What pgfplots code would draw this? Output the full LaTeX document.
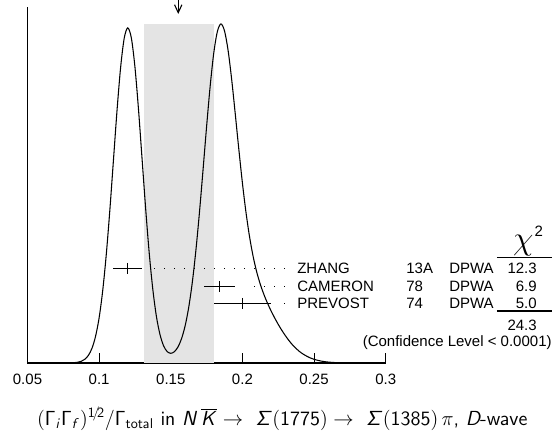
\documentclass[border=0pt]{standalone}
\usepackage[no-math]{fontspec}
\usepackage{graphicx}
\usepackage{pgfplots}
\pgfplotsset{compat=1.18}
\usetikzlibrary{arrows.meta}
\newfontfamily\arial{Liberation Sans}
\DeclareMathAlphabet{\mathsfsl}{OT1}{cmss}{m}{sl}
\definecolor{bandgray}{RGB}{228,228,228}
\newcommand{\tf}{\arial\fontsize{11.25pt}{13pt}\selectfont}
\begin{document}
\begin{tikzpicture}
\useasboundingbox (-20.625pt,-51.75pt) rectangle (398.625pt,272.25pt);
\begin{axis}[
  at={(0pt,0pt)}, anchor=south west,
  scale only axis, width=268.65pt, height=267pt,
  xmin=0.05, xmax=0.3, ymin=0, ymax=356,
  enlargelimits=false, clip=false,
  axis x line*=bottom, axis y line*=left,
  axis line style={-, line width=0.9pt},
  xtick={0.05,0.1,0.15,0.2,0.25,0.3},
  xticklabels={0.05,0.1,0.15,0.2,0.25,0.3},
  ytick=\empty,
  tick align=inside, major tick length=7.5pt,
  xtick style={line width=0.8pt, black},
  xticklabel style={font=\tf, yshift=-5pt},
]
% weighted-average band
\addplot[fill=bandgray, draw=none] coordinates {(0.131,339) (0.180,339)} \closedcycle;
% ideogram curve
\addplot[black, line width=0.8pt, smooth, no marks] coordinates {
(0.05,0) (0.06,0) (0.07,0) (0.075,0.01) (0.08,0.11) (0.0825,0.29) (0.085,0.74) (0.0875,1.71)
(0.09,3.72) (0.0925,7.64) (0.095,14.7) (0.0975,26.7) (0.1,45.3) (0.1025,72.5) (0.105,108.8)
(0.1075,153.4) (0.11,203.2) (0.1125,252.9) (0.115,295.7) (0.1175,324.8) (0.12,335.1)
(0.1225,324.9) (0.125,295.8) (0.1275,253.0) (0.13,203.4) (0.1325,153.7) (0.135,109.2)
(0.1375,73.2) (0.14,46.3) (0.1425,28.3) (0.145,17.1) (0.1475,11.4) (0.15,9.7) (0.1525,11.3)
(0.155,16.0) (0.1575,24.3) (0.16,37.1) (0.1625,55.5) (0.165,80.4) (0.1675,112.3) (0.17,150.4)
(0.1725,192.9) (0.175,236.5) (0.1775,277.0) (0.18,310.0) (0.1825,331.4) (0.185,339.1)
(0.1875,332.1) (0.19,312.6) (0.1925,283.5) (0.195,249.1) (0.1975,213.6) (0.2,179.9)
(0.2025,150.5) (0.205,126.0) (0.2075,106.4) (0.21,90.9) (0.2125,78.6) (0.215,68.5)
(0.2175,59.8) (0.22,52.1) (0.2225,45.1) (0.225,38.6) (0.2275,32.7) (0.23,27.3) (0.2325,22.4)
(0.235,18.1) (0.2375,14.5) (0.24,11.3) (0.2425,8.8) (0.245,6.7) (0.2475,5.0) (0.25,3.7)
(0.2525,2.7) (0.255,1.9) (0.2575,1.3) (0.26,0.9) (0.2625,0.6) (0.265,0.4) (0.27,0.2)
(0.275,0.07) (0.28,0.03) (0.29,0) (0.3,0)
};
% arrow at weighted average
\addplot[black, line width=0.8pt, -{Straight Barb[length=6pt,width=5.5pt]}] coordinates {(0.1552,363) (0.1552,349)};
% dotted leaders
\addplot[black, line width=0.75pt, dash pattern=on 0.75pt off 6.75pt, no marks] coordinates {(0.2297,94.7) (0.1355,94.7)};
\addplot[black, line width=0.75pt, dash pattern=on 0.75pt off 6.75pt, no marks] coordinates {(0.2297,76.7) (0.2053,76.7)};
\addplot[black, line width=0.75pt, dash pattern=on 0.75pt off 6.75pt, no marks] coordinates {(0.2297,59.7) (0.2262,59.7)};
% measurements
\addplot[black, only marks, mark=|, mark size=4.1pt, mark options={line width=0.8pt},
  error bars/.cd, x dir=both, x explicit, error mark=none,
  error bar style={line width=0.8pt}]
  coordinates {(0.12,94.7) +- (0.01,0) (0.184,76.7) +- (0.011,0) (0.20,59.7) +- (0.02,0)};
% chi^2 table lines
\addplot[black, line width=0.8pt, no marks] coordinates {(0.3775,105.3) (0.4163,105.3)};
\addplot[black, line width=0.8pt, no marks] coordinates {(0.3775,52) (0.4163,52)};
% texts
\node[anchor=base west, inner sep=0, font=\tf] at (axis cs:0.2381,89.3) {ZHANG};
\node[anchor=base west, inner sep=0, font=\tf] at (axis cs:0.2381,71.6) {CAMERON};
\node[anchor=base west, inner sep=0, font=\tf] at (axis cs:0.2381,54.3) {PREVOST};
\node[anchor=base west, inner sep=0, font=\tf] at (axis cs:0.3142,89.3) {13A};
\node[anchor=base west, inner sep=0, font=\tf] at (axis cs:0.3142,71.6) {78};
\node[anchor=base west, inner sep=0, font=\tf] at (axis cs:0.3142,54.3) {74};
\node[anchor=base west, inner sep=0, font=\tf] at (axis cs:0.3442,89.3) {DPWA};
\node[anchor=base west, inner sep=0, font=\tf] at (axis cs:0.3442,71.6) {DPWA};
\node[anchor=base west, inner sep=0, font=\tf] at (axis cs:0.3442,54.3) {DPWA};
\node[anchor=base east, inner sep=0, font=\tf] at (axis cs:0.4056,89.3) {12.3};
\node[anchor=base east, inner sep=0, font=\tf] at (axis cs:0.4056,71.6) {6.9};
\node[anchor=base east, inner sep=0, font=\tf] at (axis cs:0.4056,54.3) {5.0};
\node[anchor=base east, inner sep=0, font=\tf] at (axis cs:0.4056,33) {24.3};
\node[anchor=base east, inner sep=0, font=\tf] at (axis cs:0.4160,16.3) {(Confidence Level < 0.0001)};
\node[anchor=center, inner sep=0, font={\fontsize{24pt}{26pt}\selectfont}] at (axis cs:0.3960,117) {$\chi$};
\node[anchor=base west, inner sep=0, font=\tf] at (axis cs:0.4037,127) {2};
\node[anchor=base west, inner sep=0] at (axis cs:0.0566,-62)
  {\scalebox{1.06}{\sffamily\fontsize{14.4pt}{17pt}\selectfont $\mathsf{(\Gamma_{\mathsfsl{i}}\Gamma_{\mathsfsl{f}})^{1\!/\!2}/\Gamma_{total}}$ in $\mathsfsl{N\,\overline{K}}\rightarrow\ \mathsfsl{\Sigma}\mathsf{(1775)}\rightarrow\ \mathsfsl{\Sigma}\mathsf{(1385)}\,\pi$, {\slshape D}-wave}};
\end{axis}
\end{tikzpicture}
\end{document}
